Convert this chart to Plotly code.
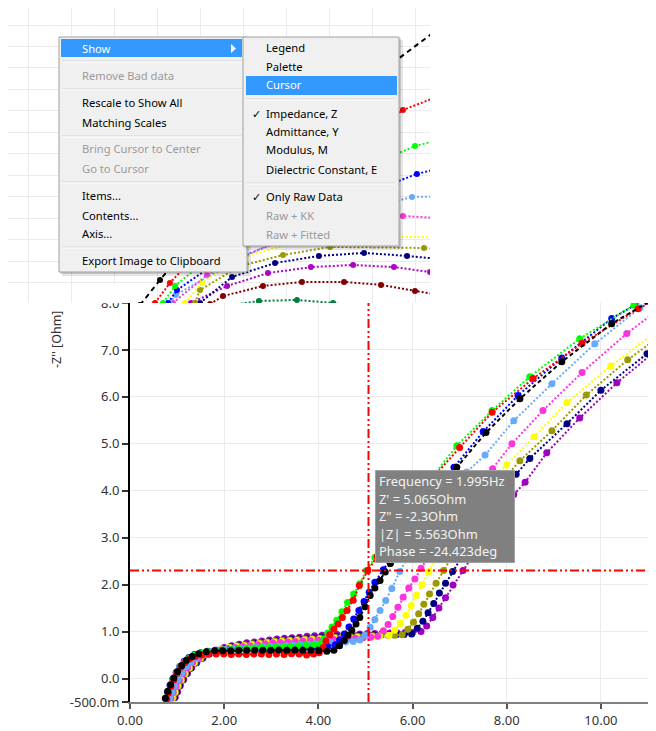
import plotly.graph_objects as go

# page is 656x731; the html body has an 8px margin, so the figure is 648x723 placed at (8, 8)
PAGE_W, PAGE_H = 656, 731
OFF = 8
FW, FH = PAGE_W - OFF, PAGE_H - OFF

# ---------------- main Nyquist data: Z' [Ohm] and -Z'' [Ohm] ----------------
red_x = [0.78,0.82,0.87,0.93,1.00,1.08,1.17,1.27,1.39,1.52,1.67,
         1.83,1.99,2.15,2.31,2.47,2.63,2.79,2.95,3.11,3.27,3.43,3.59,3.75,3.90,
         4.02,4.10,4.16,4.24,4.33,4.42,4.51,4.61,4.74,4.87,5.05,5.25,5.50,5.78,6.08,6.45,7.00,7.69,8.56,9.60,10.79,12.10]
red_y = [-0.44,-0.31,-0.17,-0.03,0.11,0.24,0.34,0.42,0.47,0.50,0.52,
         0.52,0.52,0.51,0.52,0.51,0.52,0.52,0.51,0.52,0.51,0.53,0.52,0.50,0.52,
         0.55,0.66,0.80,0.93,1.05,1.16,1.30,1.45,1.67,1.98,2.30,2.60,2.97,3.38,3.80,4.30,4.92,5.67,6.39,7.14,7.88,8.55]

green_x = [0.77,0.81,0.86,0.92,0.99,1.07,1.16,1.26,1.38,1.51,1.66,
           1.82,1.98,2.14,2.30,2.46,2.62,2.78,2.94,3.10,3.26,3.42,3.58,3.74,3.90,
           4.04,4.12,4.20,4.29,4.39,4.50,4.62,4.75,4.88,5.02,5.20,5.44,5.72,6.02,6.38,6.94,7.69,8.49,9.55,10.70,12.00]
green_y = [-0.43,-0.29,-0.15,-0.01,0.13,0.26,0.36,0.44,0.50,0.54,0.57,
           0.59,0.61,0.62,0.63,0.64,0.65,0.66,0.66,0.67,0.68,0.69,0.70,0.71,0.72,
           0.74,0.84,0.97,1.10,1.24,1.42,1.62,1.80,2.02,2.30,2.58,2.95,3.36,3.78,4.24,4.96,5.71,6.43,7.24,7.95,8.65]

blue_x = [0.76,0.80,0.85,0.91,0.98,1.06,1.15,1.25,1.37,1.50,1.65,
          1.81,1.97,2.13,2.29,2.45,2.61,2.77,2.93,3.09,3.25,3.41,3.57,3.73,3.89,4.05,4.20,
          4.36,4.45,4.55,4.65,4.75,4.86,4.97,5.08,5.20,5.38,5.58,5.82,6.10,6.45,6.88,7.50,8.24,9.17,10.23,11.40]
blue_y = [-0.43,-0.29,-0.15,-0.01,0.13,0.26,0.37,0.45,0.51,0.55,0.58,
          0.60,0.61,0.62,0.62,0.63,0.63,0.64,0.64,0.65,0.65,0.66,0.66,0.67,0.67,0.68,0.68,
          0.72,0.82,0.95,1.10,1.27,1.45,1.64,1.84,2.05,2.32,2.62,2.98,3.40,3.90,4.50,5.26,6.03,6.83,7.67,8.35]

black_x = [0.75,0.80,0.86,0.93,1.01,1.10,1.20,1.32,1.46,1.62,1.80,
           1.97,2.14,2.31,2.48,2.65,2.82,2.99,3.16,3.33,3.50,3.67,3.84,4.01,4.18,
           4.33,4.45,4.55,4.63,4.71,4.80,4.88,4.99,5.10,5.20,5.31,5.42,5.53,5.68,5.88,6.14,6.48,6.94,7.56,8.28,9.17,10.23,11.40]
black_y = [-0.42,-0.27,-0.13,0.01,0.15,0.28,0.39,0.47,0.53,0.57,0.59,
           0.59,0.59,0.60,0.60,0.60,0.60,0.60,0.61,0.60,0.61,0.60,0.60,0.59,0.58,
           0.60,0.70,0.81,0.92,1.03,1.16,1.30,1.53,1.77,1.93,2.09,2.27,2.45,2.70,3.03,3.43,3.92,4.50,5.24,5.96,6.75,7.56,8.25]

lightblue_x = [0.84,0.89,0.95,1.02,1.10,1.19,1.29,1.41,1.55,1.70,1.86,
               2.02,2.18,2.34,2.50,2.66,2.82,2.98,3.14,3.30,3.46,3.62,3.78,3.94,4.10,4.26,4.42,4.58,4.74,
               4.88,4.99,5.10,5.20,5.31,5.43,5.56,5.73,5.92,6.15,6.43,6.77,7.15,7.54,8.15,8.96,9.87,10.83,11.90]
lightblue_y = [-0.42,-0.29,-0.16,-0.02,0.12,0.25,0.36,0.45,0.52,0.57,0.60,
               0.62,0.63,0.64,0.65,0.66,0.67,0.68,0.69,0.70,0.71,0.72,0.73,0.74,0.75,0.76,0.77,0.78,0.79,
               0.82,0.92,1.09,1.26,1.45,1.66,1.92,2.28,2.62,3.00,3.45,3.95,4.40,4.76,5.49,6.28,7.13,7.90,8.55]

magenta_x = [0.87,0.92,0.98,1.05,1.13,1.22,1.33,1.46,1.60,1.75,1.91,
             2.07,2.23,2.39,2.55,2.71,2.87,3.03,3.19,3.35,3.51,3.67,3.83,3.99,4.15,4.31,4.47,4.63,4.79,4.95,5.11,
             5.26,5.38,5.48,5.58,5.69,5.80,5.92,6.05,6.18,6.38,6.62,6.92,7.27,7.70,8.11,8.77,9.60,10.55,11.60]
magenta_y = [-0.42,-0.30,-0.17,-0.04,0.10,0.23,0.34,0.43,0.51,0.57,0.61,
             0.64,0.66,0.68,0.70,0.72,0.74,0.76,0.77,0.78,0.79,0.80,0.81,0.82,0.83,0.84,0.85,0.86,0.86,0.87,0.88,
             0.90,1.02,1.15,1.32,1.52,1.73,1.93,2.12,2.35,2.68,3.05,3.50,3.97,4.47,5.00,5.71,6.52,7.35,8.15]

yellow_x = [0.90,0.95,1.01,1.08,1.16,1.25,1.36,1.49,1.63,1.78,1.94,
            2.10,2.26,2.42,2.58,2.74,2.90,3.06,3.22,3.38,3.54,3.70,3.86,4.02,4.18,4.34,4.50,4.66,4.82,4.98,5.14,5.30,
            5.50,5.62,5.74,5.86,5.97,6.08,6.20,6.35,6.52,6.75,7.02,7.35,7.70,8.00,8.58,9.28,10.21,11.30]
yellow_y = [-0.41,-0.29,-0.16,-0.03,0.10,0.23,0.34,0.44,0.52,0.58,0.63,
            0.66,0.68,0.70,0.72,0.74,0.76,0.78,0.79,0.80,0.81,0.82,0.83,0.84,0.85,0.86,0.87,0.88,0.88,0.89,0.89,0.90,
            0.92,1.03,1.17,1.35,1.55,1.77,2.00,2.28,2.58,2.98,3.42,3.90,4.30,4.55,5.15,5.88,6.66,7.48]

olive_x = [0.92,0.97,1.03,1.10,1.18,1.27,1.38,1.51,1.65,1.80,1.96,
           2.12,2.28,2.44,2.60,2.76,2.92,3.08,3.24,3.40,3.56,3.72,3.88,4.04,4.20,4.36,4.52,4.68,4.84,5.00,5.16,5.32,5.48,5.62,
           5.78,5.90,6.02,6.13,6.24,6.36,6.50,6.66,6.85,7.08,7.36,7.70,8.00,8.28,8.96,9.69,10.57,11.60]
olive_y = [-0.41,-0.29,-0.16,-0.03,0.10,0.22,0.33,0.43,0.52,0.58,0.63,
           0.67,0.70,0.72,0.74,0.76,0.78,0.80,0.81,0.82,0.83,0.84,0.85,0.86,0.87,0.88,0.89,0.90,0.90,0.91,0.91,0.92,0.92,0.92,
           0.93,1.05,1.20,1.38,1.58,1.80,2.03,2.30,2.62,3.00,3.45,3.95,4.32,4.64,5.28,6.04,6.79,7.55]

navy_x = [0.94,0.99,1.05,1.12,1.20,1.29,1.40,1.53,1.67,1.82,1.98,
          2.14,2.30,2.46,2.62,2.78,2.94,3.10,3.26,3.42,3.58,3.74,3.90,4.06,4.22,4.38,4.54,4.70,4.86,5.02,5.18,5.34,5.50,5.66,5.82,
          5.98,6.10,6.22,6.33,6.45,6.57,6.70,6.85,7.04,7.27,7.55,7.88,8.20,8.49,9.28,10.00,10.98,12.00]
navy_y = [-0.41,-0.29,-0.16,-0.03,0.10,0.22,0.33,0.43,0.52,0.58,0.64,
          0.68,0.71,0.73,0.75,0.77,0.79,0.81,0.82,0.84,0.85,0.86,0.87,0.88,0.89,0.90,0.91,0.91,0.92,0.92,0.93,0.93,0.94,0.94,0.94,
          0.95,1.07,1.22,1.40,1.60,1.82,2.03,2.28,2.60,2.98,3.43,3.92,4.35,4.69,5.43,6.14,6.92,7.65]

purple_x = [0.96,1.01,1.07,1.14,1.22,1.31,1.42,1.55,1.69,1.84,2.00,
            2.16,2.32,2.48,2.64,2.80,2.96,3.12,3.28,3.44,3.60,3.76,3.92,4.08,4.24,4.40,4.56,4.72,4.88,5.04,5.20,5.36,5.52,5.68,5.84,6.00,
            6.18,6.30,6.43,6.56,6.70,6.86,7.07,7.30,7.56,7.86,8.15,8.39,8.85,9.55,10.34,11.25,12.20]
purple_y = [-0.40,-0.28,-0.15,-0.02,0.11,0.23,0.34,0.44,0.53,0.60,0.66,
            0.70,0.73,0.76,0.78,0.80,0.82,0.84,0.86,0.87,0.88,0.90,0.91,0.92,0.93,0.94,0.94,0.95,0.95,0.96,0.96,0.97,0.97,0.97,0.98,0.98,
            1.00,1.12,1.30,1.50,1.72,1.99,2.30,2.65,3.05,3.52,3.92,4.18,4.81,5.55,6.30,7.05,7.75]

# ---------------- overview panel data (same plot, zoomed out, behind the menu) ----------------
top_black_x = [5.21, 6.14, 8.00, 10.33, 12.65, 14.98, 19.63]
top_black_y = [-0.05, 1.12, 3.36, 5.55, 7.64, 9.74, 13.23]
top_red_x = [5.91, 6.60, 8.70, 11.72, 14.98, 17.44, 20.09]
top_red_y = [0.05, 0.98, 3.22, 5.55, 7.41, 9.04, 10.07]
top_green_x = [6.28, 6.84, 9.40, 12.65, 15.44, 18.00, 20.56]
top_green_y = [0.05, 0.84, 2.98, 4.85, 6.24, 7.36, 8.01]
top_blue_x = [6.51, 6.93, 9.63, 13.12, 18.09, 21.02]
top_blue_y = [0.05, 0.65, 2.52, 4.15, 6.06, 6.80]
top_lightblue_x = [6.60, 6.88, 9.86, 13.58, 17.86, 21.02]
top_lightblue_y = [0.05, 0.42, 2.14, 3.82, 4.99, 5.03]
top_magenta_x = [6.74, 8.33, 9.26, 12.19, 14.98, 17.44, 20.56]
top_magenta_y = [0.05, 1.35, 1.96, 3.08, 3.73, 4.10, 3.91]
top_yellow_x = [7.30, 8.09, 9.86, 12.65, 15.44, 20.09]
top_yellow_y = [0.05, 0.98, 2.14, 2.94, 3.17, 3.08]
top_olive_x = [7.77, 8.00, 9.86, 11.86, 14.05, 18.42, 21.02]
top_olive_y = [0.05, 0.65, 1.77, 2.28, 2.66, 2.61, 2.42]
top_navy_x = [8.00, 9.49, 11.49, 13.53, 15.63, 17.63, 20.56]
top_navy_y = [0.05, 1.26, 1.91, 2.24, 2.38, 2.24, 1.96]
top_purple_x = [7.58, 9.26, 11.16, 13.16, 15.12, 17.02, 18.70, 20.56]
top_purple_y = [0.05, 0.84, 1.44, 1.72, 1.82, 1.72, 1.49, 1.21]
top_maroon_x = [8.47, 9.07, 10.93, 12.74, 14.70, 16.42, 18.00, 20.56]
top_maroon_y = [0.00, 0.37, 0.84, 1.03, 1.03, 0.89, 0.61, 0.19]
top_darkgreen_x = [9.16, 10.74, 12.51, 14.19, 15.44]
top_darkgreen_y = [-0.09, 0.14, 0.19, 0.05, -0.19]

# ---------------- axis ticks ----------------
x_tick_vals = [0, 2, 4, 6, 8, 10]
x_tick_text = ["0.00", "2.00", "4.00", "6.00", "8.00", "10.00"]
y_tick_vals = [-0.5, 0, 1, 2, 3, 4, 5, 6, 7, 8]
y_tick_text = ["-500.0m", "0.0", "1.0", "2.0", "3.0", "4.0", "5.0", "6.0", "7.0", "8.0"]
y_title = "-Z'' [Ohm]"

# ---------------- cursor ----------------
cursor_freq = 1.995
cursor_zre = 5.065
cursor_zim = -2.3
cursor_mod = 5.563
cursor_phase = -24.423
tooltip_lines = [
    f"Frequency = {cursor_freq}Hz",
    f"Z' = {cursor_zre}Ohm",
    f'Z" = {cursor_zim}Ohm',
    f"|Z| = {cursor_mod}Ohm",
    f"Phase = {cursor_phase}deg",
]

# ---------------- context menu ----------------
main_items = ["Show", "Remove Bad data", "Rescale to Show All", "Matching Scales",
              "Bring Cursor to Center", "Go to Cursor", "Items...", "Contents...", "Axis...",
              "Export Image to Clipboard"]
main_enabled = [True, False, True, True, False, False, True, True, True, True]
sub_items = ["Legend", "Palette", "Cursor", "Impedance, Z", "Admittance, Y", "Modulus, M",
             "Dielectric Constant, E", "Only Raw Data", "Raw + KK", "Raw + Fitted"]
sub_enabled = [True, True, True, True, True, True, True, True, False, False]
sub_checked = [False, False, False, True, False, False, False, True, False, False]

# ================= figure =================
fig = go.Figure()

main_series = [
    (purple_x, purple_y, "#a000c0", "2px,2px"),
    (navy_x, navy_y, "#000080", "2px,2px"),
    (olive_x, olive_y, "#9a9a00", "2px,2px"),
    (yellow_x, yellow_y, "#ffff00", "2px,2px"),
    (magenta_x, magenta_y, "#ff33dd", "2px,2px"),
    (lightblue_x, lightblue_y, "#66aaff", "2px,2px"),
    (blue_x, blue_y, "#0000ff", "2px,2px"),
    (green_x, green_y, "#00ff00", "2px,2px"),
    (red_x, red_y, "#ff0000", "2px,2px"),
    (black_x, black_y, "#000000", "4px,3px"),
]
for xs, ys, col, dash in main_series:
    fig.add_trace(go.Scatter(x=xs, y=ys, mode="lines+markers", xaxis="x", yaxis="y",
                             line=dict(color=col, width=2, dash=dash),
                             marker=dict(color=col, size=7), showlegend=False, hoverinfo="skip"))

top_series = [
    (top_darkgreen_x, top_darkgreen_y, "#007f3f", "2px,2px"),
    (top_maroon_x, top_maroon_y, "#800000", "2px,2px"),
    (top_purple_x, top_purple_y, "#b000c8", "2px,2px"),
    (top_navy_x, top_navy_y, "#000080", "2px,2px"),
    (top_olive_x, top_olive_y, "#9a9a00", "2px,2px"),
    (top_yellow_x, top_yellow_y, "#ffff00", "2px,2px"),
    (top_magenta_x, top_magenta_y, "#ff33dd", "2px,2px"),
    (top_lightblue_x, top_lightblue_y, "#66aaff", "2px,2px"),
    (top_blue_x, top_blue_y, "#0000ff", "2px,2px"),
    (top_green_x, top_green_y, "#00ff00", "2px,2px"),
    (top_red_x, top_red_y, "#ff0000", "2px,2px"),
    (top_black_x, top_black_y, "#000000", "5px,4px"),
]
for xs, ys, col, dash in top_series:
    fig.add_trace(go.Scatter(x=xs, y=ys, mode="lines+markers", xaxis="x2", yaxis="y2",
                             line=dict(color=col, width=2, dash=dash),
                             marker=dict(color=col, size=6), showlegend=False, hoverinfo="skip"))


def X(p):
    """page pixel x -> paper fraction"""
    return (p - OFF) / FW


def Y(p):
    """page pixel y (from top) -> paper fraction"""
    return 1 - (p - OFF) / FH


def prect(x0, y0, x1, y1, fill, lc=None, lw=0):
    return dict(type="rect", xref="paper", yref="paper", x0=X(x0), x1=X(x1), y0=Y(y1), y1=Y(y0),
                fillcolor=fill, line=dict(color=lc or fill, width=lw), layer="above")


def pline(x0, y0, x1, y1, col, w=1):
    return dict(type="line", xref="paper", yref="paper", x0=X(x0), x1=X(x1), y0=Y(y0), y1=Y(y1),
                line=dict(color=col, width=w), layer="above")


cur_dash = "9px,3px,2px,3px,2px,3px"
shapes = [
    dict(type="line", xref="x", yref="y domain", x0=cursor_zre, x1=cursor_zre, y0=0, y1=1,
         line=dict(color="#ff0000", width=2, dash=cur_dash), layer="above"),
    dict(type="line", xref="x domain", yref="y", x0=0, x1=1, y0=-cursor_zim, y1=-cursor_zim,
         line=dict(color="#ff0000", width=2, dash=cur_dash), layer="above"),
    dict(type="rect", xref="x", yref="y", xsizemode="pixel", ysizemode="pixel",
         xanchor=cursor_zre, yanchor=-cursor_zim, x0=7, x1=146, y0=8, y1=100,
         fillcolor="#808080", line=dict(color="#a0a0a0", width=1), layer="above"),
    # hide the upper half of the clipped "8.0" tick label (the overview image covers it)
    prect(92, 284, 128, 303.3, "#ffffff"),
]

# main menu
shapes += [
    prect(62, 40, 251, 276, "rgba(0,0,0,0.10)"),
    prect(60, 38, 249, 274, "rgba(0,0,0,0.14)"),
    prect(59, 37, 247, 272, "#f0f0f0", "#a0a0a0", 1),
    prect(61, 39, 242, 57, "#3399ff"),
]
for sy in [61, 89, 136, 182, 247]:
    shapes.append(pline(62, sy, 242, sy, "#d5d5d5"))
    shapes.append(pline(62, sy + 1, 242, sy + 1, "#ffffff"))
shapes.append(dict(type="path", xref="paper", yref="paper",
                   path=f"M {X(231)} {Y(44)} L {X(236)} {Y(48.5)} L {X(231)} {Y(53)} Z",
                   fillcolor="#ffffff", line=dict(color="#ffffff", width=0), layer="above"))
# submenu
shapes += [
    prect(246, 40, 403, 250, "rgba(0,0,0,0.10)"),
    prect(244, 38, 401, 248, "rgba(0,0,0,0.14)"),
    prect(243, 37, 399, 246, "#f0f0f0", "#a0a0a0", 1),
    prect(246, 76, 397, 95, "#3399ff"),
]
for sy in [99, 183]:
    shapes.append(pline(246, sy, 395, sy, "#d5d5d5"))
    shapes.append(pline(246, sy + 1, 395, sy + 1, "#ffffff"))

menu_font = "Noto Sans, Open Sans, sans-serif"
annotations = []
main_item_py = [48, 75, 103, 122, 149, 168, 196, 215, 233, 261]
for i, (txt, en) in enumerate(zip(main_items, main_enabled)):
    col = "#ffffff" if i == 0 else ("#000000" if en else "#9a9a9a")
    annotations.append(dict(xref="paper", yref="paper", x=X(80), y=Y(main_item_py[i]), text=txt,
                            showarrow=False, xanchor="left", yanchor="middle",
                            font=dict(family=menu_font, size=11.2, color=col)))
sub_item_py = [47, 66, 85, 113, 131, 150, 169, 197, 216, 234]
for i, (txt, en, ck) in enumerate(zip(sub_items, sub_enabled, sub_checked)):
    col = "#ffffff" if txt == "Cursor" else ("#000000" if en else "#9a9a9a")
    annotations.append(dict(xref="paper", yref="paper", x=X(264), y=Y(sub_item_py[i]), text=txt,
                            showarrow=False, xanchor="left", yanchor="middle",
                            font=dict(family=menu_font, size=11.2, color=col)))
    if ck:
        annotations.append(dict(xref="paper", yref="paper", x=X(250), y=Y(sub_item_py[i] + 1), text="✓",
                                showarrow=False, xanchor="left", yanchor="middle",
                                font=dict(family="DejaVu Sans", size=11, color="#000000")))

# tooltip text
tip_shift = [89.6, 72.0, 54.4, 36.8, 19.2]
for txt, ys in zip(tooltip_lines, tip_shift):
    annotations.append(dict(xref="x", yref="y", x=cursor_zre, y=-cursor_zim, text=txt,
                            showarrow=False, xanchor="left", yanchor="middle", xshift=9, yshift=ys,
                            borderpad=0,
                            font=dict(family="Noto Sans, sans-serif", size=12.9, color="#f2f2f2")))

# y-axis title
annotations.append(dict(xref="paper", yref="paper", x=X(57), y=Y(340), text=y_title, textangle=-90,
                        showarrow=False, xanchor="center", yanchor="middle",
                        font=dict(family="Noto Sans, sans-serif", size=12.5, color="#333333")))

tick_font = dict(family="Noto Sans, sans-serif", size=13, color="#333333")
fig.update_layout(
    template="none",
    width=FW, height=FH, autosize=False,
    margin=dict(l=0, r=0, t=0, b=0, pad=0, autoexpand=False),
    paper_bgcolor="#ffffff", plot_bgcolor="#ffffff",
    showlegend=False,
    xaxis=dict(domain=[X(130), 1.0], range=[0, 11.17], anchor="y", automargin=False,
               tickvals=x_tick_vals, ticktext=x_tick_text, tickfont=tick_font,
               showgrid=True, gridcolor="#ebebeb", gridwidth=1, zeroline=False,
               showline=True, linecolor="#808080", linewidth=2,
               ticks="outside", ticklen=5, tickcolor="#555555", tickwidth=1.5),
    yaxis=dict(domain=[Y(702), Y(303)], range=[-0.5, 8.0], anchor="x", automargin=False,
               tickvals=y_tick_vals, ticktext=y_tick_text, tickfont=tick_font,
               showgrid=True, gridcolor="#ebebeb", gridwidth=1, zeroline=False,
               showline=True, linecolor="#000000", linewidth=2,
               ticks="outside", ticklen=6, tickcolor="#333333", tickwidth=1.5),
    xaxis2=dict(domain=[X(8), X(430)], range=[-20 / 21.5, 402 / 21.5], anchor="y2", automargin=False,
                tick0=0, dtick=2, showticklabels=False, ticks="",
                showgrid=True, gridcolor="#ebebeb", zeroline=False, showline=False),
    yaxis2=dict(domain=[Y(303), 1.0], range=[1 / 21.46, (304 - OFF) / 21.46], anchor="x2", automargin=False,
                tick0=0, dtick=1, showticklabels=False, ticks="",
                showgrid=True, gridcolor="#ebebeb", zeroline=False, showline=False),
    shapes=shapes,
    annotations=annotations,
)

fig.write_html("out.html")
